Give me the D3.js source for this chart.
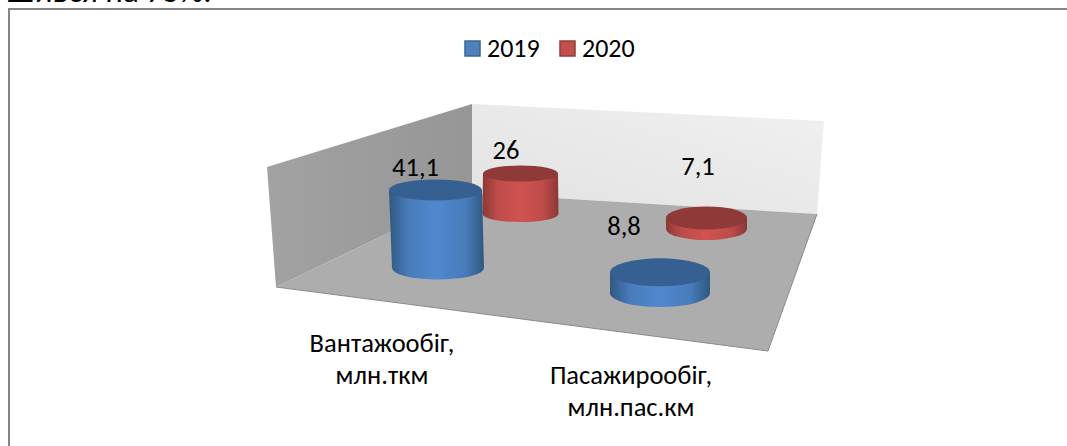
<!DOCTYPE html>
<html><head><meta charset="utf-8">
<script src="https://cdn.jsdelivr.net/npm/d3@7"></script>
<style>html,body{margin:0;padding:0;background:#fff}svg{display:block}text{font-family:Carlito,"Open Sans","Noto Sans",sans-serif;fill:#000}</style>
</head><body><div id="c"></div>
<script>
const categories = ["Вантажообіг,|млн.ткм", "Пасажирообіг,|млн.пас.км"];
const seriesNames = ["2019", "2020"];
const values2019 = [41.1, 8.8];
const values2020 = [26, 7.1];
const valueLabels2019 = ["41,1", "8,8"];
const valueLabels2020 = ["26", "7,1"];
const headingFragment = "Шився на 75%.";

const svg = d3.select("#c").append("svg").attr("width",1067).attr("height",446);
const defs = svg.append("defs");
function cyl(id,edge,mid){
  const g=defs.append("linearGradient").attr("id",id);
  [[0,edge],[.2,d3.interpolateRgb(edge,mid)(.75)],[.5,mid],[.8,d3.interpolateRgb(edge,mid)(.75)],[1,edge]].forEach(s=>g.append("stop").attr("offset",s[0]).attr("stop-color",s[1]));
}
cyl("gb","#30587f","#5088cf"); cyl("gr","#8c3836","#cf5351");
const wg=defs.append("linearGradient").attr("id","wall").attr("x1",0).attr("y1",1).attr("x2",1).attr("y2",0);
wg.append("stop").attr("offset",0).attr("stop-color","#e2e2e2");
wg.append("stop").attr("offset",1).attr("stop-color","#f0f0f0");
const lw=defs.append("linearGradient").attr("id","lwall");
lw.append("stop").attr("offset",0).attr("stop-color","#a2a2a2");
lw.append("stop").attr("offset",1).attr("stop-color","#969696");

svg.append("text").attr("x",6).attr("y",2).attr("font-size",33).text(headingFragment);
svg.append("path").attr("d","M9 446V9H1067").attr("fill","none").attr("stroke","#868686").attr("stroke-width",2);

const line=d3.line();
const poly=(p,f)=>svg.append("path").attr("d",line(p)+"Z").attr("fill",f);
poly([[472,104],[824,121],[817,214],[472,193]],"url(#wall)");
poly([[267,167],[472,104],[472,193],[276,287]],"url(#lwall)");
poly([[472,193],[817,214],[768,351],[276,287]],"#adadad");
svg.append("path").attr("d",line([[276,287],[768,351],[817,214]])).attr("fill","none").attr("stroke","#8a8a8a");

const hBlue=d3.scaleLinear().domain([0,41.1]).range([5,78]);
const hRed=d3.scaleLinear().domain([0,26]).range([0,40.5]);
const basesBlue=[{cx:438,by:268,rx:46,ry:11.5,tcx:435.5,trx:46.5,try:10.5},{cx:660,by:293,rx:50,ry:14,tcx:660,trx:50,try:14}];
const basesRed=[{cx:520.5,by:214,rx:38,ry:8,tcx:520.5,trx:37.5,try:8},{cx:706.5,by:229,rx:40.5,ry:11,tcx:706.5,trx:40.5,try:11.5}];
function draw(bases,vals,h,grad,top){
  bases.forEach((b,i)=>{
    const ty=b.by-h(vals[i]);
    const p=`M${b.tcx-b.trx} ${ty}L${b.cx-b.rx} ${b.by}A${b.rx} ${b.ry} 0 0 0 ${b.cx+b.rx} ${b.by}L${b.tcx+b.trx} ${ty}Z`;
    svg.append("path").attr("d",p).attr("fill",`url(#${grad})`);
    svg.append("ellipse").attr("cx",b.tcx).attr("cy",ty).attr("rx",b.trx).attr("ry",b.try).attr("fill",top);
  });
}
draw(basesRed,values2020,hRed,"gr","#8f3a38");
draw(basesBlue,values2019,hBlue,"gb","#376092");

const lab=(x,y,t,a="middle")=>svg.append("text").attr("x",x).attr("y",y).attr("text-anchor",a).attr("font-size",26.5).text(t);
lab(415.5,176,valueLabels2019[0]);lab(506,159,valueLabels2020[0]);
lab(624,235,valueLabels2019[1]);lab(698,175,valueLabels2020[1]);

const lg=[[465,"#4f81bd","#3b6592"],[560,"#c0504d","#943d3b"]];
seriesNames.forEach((s,i)=>{
  svg.append("rect").attr("x",lg[i][0]).attr("y",41).attr("width",15).attr("height",15).attr("fill",lg[i][1]).attr("stroke",lg[i][2]).attr("stroke-width",1.5);
  svg.append("text").attr("x",lg[i][0]+22).attr("y",57).attr("font-size",26).text(s);
});
const catPos=[[382,352],[631,384]];
categories.forEach((c,i)=>{
  c.split("|").forEach((t,j)=>lab(catPos[i][0],catPos[i][1]+j*31.5,t));
});
</script></body></html>
